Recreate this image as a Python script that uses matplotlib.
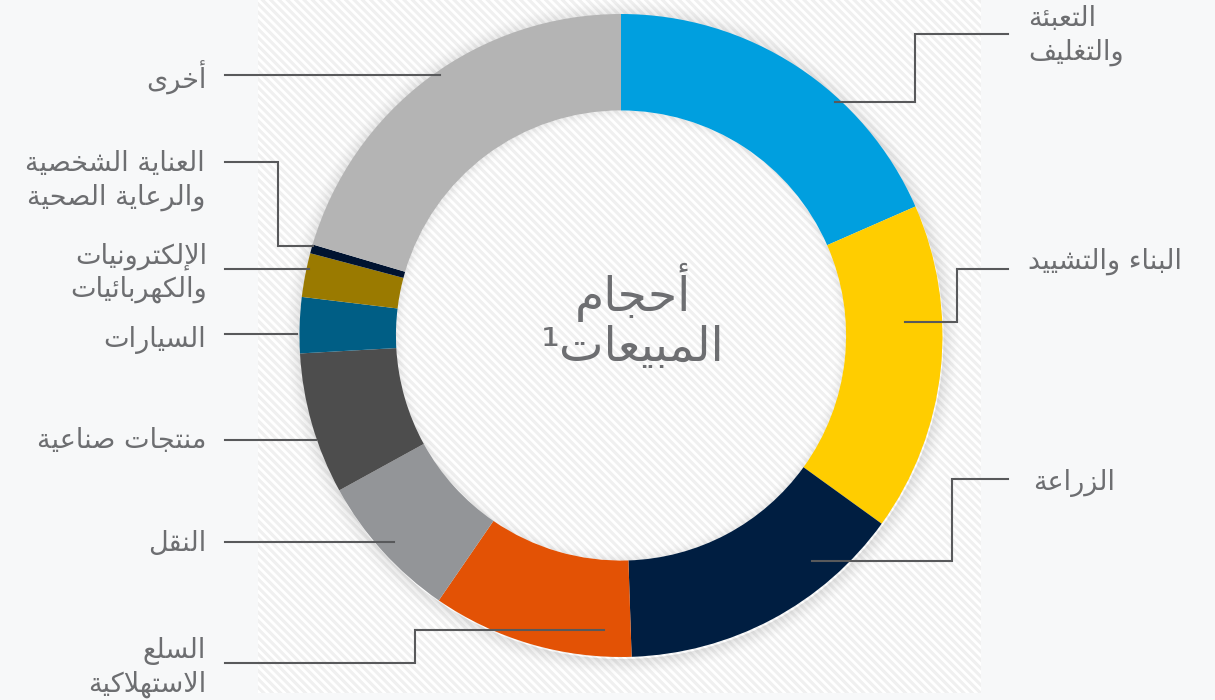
import matplotlib
matplotlib.use("Agg")
import matplotlib.pyplot as plt
from matplotlib.patches import Rectangle, Wedge

# ---------------- data ----------------
categories = [
    "التعبئة\nوالتغليف",
    "البناء والتشييد",
    "الزراعة",
    "السلع\nالاستهلاكية",
    "النقل",
    "منتجات صناعية",
    "السيارات",
    "الإلكترونيات\nوالكهربائيات",
    "العناية الشخصية\nوالرعاية الصحية",
    "أخرى",
]
shares = [18.4, 16.5, 14.5, 10.1, 7.4, 7.1, 2.8, 2.2, 0.45, 20.4]
colors = ["#009fdf", "#ffcd00", "#001e41", "#e35205", "#939598",
          "#4d4d4d", "#005e85", "#9a7a00", "#001330", "#b4b4b4"]
center_title = "أحجام\nالمبيعات¹"

# ---------------- minimal Arabic shaping (visual order for LTR renderer) ----------------
DUAL = {'ئ': 0xFE89, 'ب': 0xFE8F, 'ت': 0xFE95, 'ث': 0xFE99, 'ج': 0xFE9D, 'ح': 0xFEA1,
        'خ': 0xFEA5, 'س': 0xFEB1, 'ش': 0xFEB5, 'ص': 0xFEB9, 'ض': 0xFEBD, 'ط': 0xFEC1,
        'ظ': 0xFEC5, 'ع': 0xFEC9, 'غ': 0xFECD, 'ف': 0xFED1, 'ق': 0xFED5, 'ك': 0xFED9,
        'ل': 0xFEDD, 'م': 0xFEE1, 'ن': 0xFEE5, 'ه': 0xFEE9, 'ي': 0xFEF1}
RIGHT = {'آ': 0xFE81, 'أ': 0xFE83, 'ؤ': 0xFE85, 'إ': 0xFE87, 'ا': 0xFE8D, 'ة': 0xFE93,
         'د': 0xFEA9, 'ذ': 0xFEAB, 'ر': 0xFEAD, 'ز': 0xFEAF, 'و': 0xFEED, 'ى': 0xFEEF}
NONJ = {'ء': 0xFE80}
LAMALEF = {'آ': 0xFEF5, 'أ': 0xFEF7, 'إ': 0xFEF9, 'ا': 0xFEFB}


def shape(text):
    ch = list(text)
    units = []
    i = 0
    while i < len(ch):
        if ch[i] == 'ل' and i + 1 < len(ch) and ch[i + 1] in LAMALEF:
            units.append(('LA', LAMALEF[ch[i + 1]]))
            i += 2
        else:
            units.append(('C', ch[i]))
            i += 1

    def jn(u):
        return u[0] == 'C' and u[1] in DUAL

    def jp(u):
        return u[0] == 'LA' or (u[0] == 'C' and (u[1] in DUAL or u[1] in RIGHT))

    out = []
    for k, u in enumerate(units):
        prv = units[k - 1] if k > 0 else None
        nxt = units[k + 1] if k + 1 < len(units) else None
        cp = prv is not None and jn(prv) and jp(u)
        cn = nxt is not None and jn(u) and jp(nxt)
        if u[0] == 'LA':
            out.append(chr(u[1] + (1 if cp else 0)))
            continue
        c = u[1]
        if c in DUAL:
            f = 3 if (cp and cn) else 2 if cn else 1 if cp else 0
            out.append(chr(DUAL[c] + f))
        elif c in RIGHT:
            out.append(chr(RIGHT[c] + (1 if cp else 0)))
        elif c in NONJ:
            out.append(chr(NONJ[c]))
        else:
            out.append(c)
    return ''.join(reversed(out))


# ---------------- figure ----------------
W, H = 1215, 700
fig = plt.figure(figsize=(W / 100, H / 100), dpi=100)
fig.patch.set_facecolor("#f7f8f9")
ax = fig.add_axes([0, 0, 1, 1])
ax.set_facecolor("#f7f8f9")


def Y(y):  # pixel-from-top -> data
    return H - y


TXT = "#6d6e71"
LINE = "#58595b"
FONT = "DejaVu Sans"

# hatched band
plt.rcParams['hatch.linewidth'] = 2.0
band = Rectangle((258, Y(693)), 981 - 258, 693, facecolor="#f0f0f0",
                 edgecolor="#ffffff", hatch="\\\\\\\\", linewidth=0, zorder=0)
ax.add_patch(band)

cx, cy, R = 621, Y(335.5), 321.5
ring_w = 0.30 * R

# soft shadow around donut
n = 14
for i in range(n):
    a = 0.10 * (1 - i / n) ** 1.6
    ax.add_patch(Wedge((cx + 1, cy - 2), R + (i + 1) * 1.2, 0, 360, width=1.2,
                       facecolor="black", edgecolor="none", alpha=a, zorder=1))
# subtle inner shadow
for i in range(8):
    a = 0.06 * (1 - i / 8) ** 1.6
    ax.add_patch(Wedge((cx, cy), R - ring_w - i * 1.2, 0, 360, width=1.2,
                       facecolor="black", edgecolor="none", alpha=a, zorder=1))

wedges, _ = ax.pie(shares, colors=colors, startangle=90, counterclock=False,
                   radius=R, center=(cx, cy),
                   wedgeprops=dict(width=ring_w, linewidth=0))
for w in wedges:
    w.set_zorder(2)

ax.set_xlim(0, W)
ax.set_ylim(0, H)
ax.set_aspect('auto')
ax.axis('off')

# leader lines (layout, in pixels from top-left)
leaders = [
    [(835, 102), (915, 102), (915, 34), (1008, 34)],
    [(905, 322), (957, 322), (957, 269), (1008, 269)],
    [(812, 561), (952, 561), (952, 479), (1008, 479)],
    [(604, 630), (415, 630), (415, 663), (225, 663)],
    [(394, 542), (225, 542)],
    [(316, 440), (225, 440)],
    [(297, 334), (225, 334)],
    [(309, 269), (225, 269)],
    [(313, 246), (278, 246), (278, 162), (225, 162)],
    [(440, 75), (225, 75)],
]
for pts in leaders:
    ax.plot([p[0] for p in pts], [Y(p[1]) for p in pts], color=LINE,
            lw=1.5, solid_joinstyle='miter', zorder=3)

# label placement: (x, ha, [line centre y's])
label_pos = [
    (1028, 'left', [19, 52]),
    (1028, 'left', [261]),
    (1033, 'left', [483]),
    (206, 'right', [651, 684]),
    (206, 'right', [544]),
    (206, 'right', [441]),
    (206, 'right', [340]),
    (207, 'right', [256, 289]),
    (205, 'right', [164, 197]),
    (207, 'right', [78]),
]
for name, (x, ha, ys) in zip(categories, label_pos):
    for line, y in zip(name.split("\n"), ys):
        ax.text(x, Y(y), shape(line), ha=ha, va='center', fontsize=19.5,
                color=TXT, family=FONT, zorder=4)

t1, t2 = center_title.split("\n")
ax.text(633, Y(292), shape(t1), ha='center', va='center', fontsize=34,
        color=TXT, family=FONT, zorder=4)
ax.text(633, Y(349), shape(t2), ha='center', va='center', fontsize=34,
        color=TXT, family=FONT, zorder=4)

fig.savefig("out.png", dpi=100, facecolor=fig.get_facecolor())
